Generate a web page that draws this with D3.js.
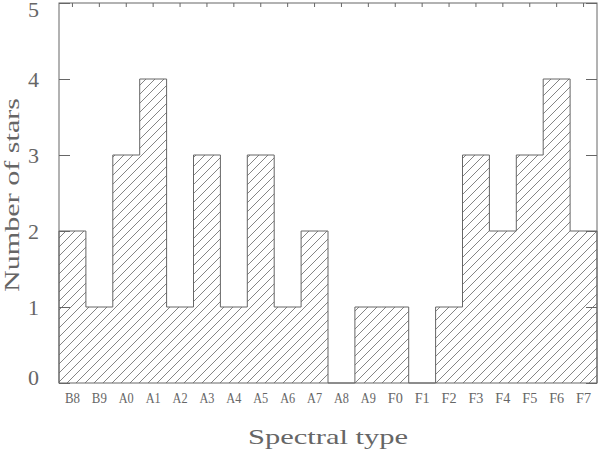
<!DOCTYPE html>
<html>
<head>
<meta charset="utf-8">
<script src="https://cdn.jsdelivr.net/npm/d3@7"></script>
<style>
  body { margin: 0; background: #fff; }
  text { font-family: "Liberation Serif", "DejaVu Serif", serif; fill: #666; }
</style>
</head>
<body>
<svg id="chart" width="600" height="452"></svg>
<script>
// spectral types and star counts
var types = ["B8","B9","A0","A1","A2","A3","A4","A5","A6","A7",
             "A8","A9","F0","F1","F2","F3","F4","F5","F6","F7"]
var counts = [2,1,3,4,1,3,1,3,1,2,0,1,1,0,1,3,2,3,4,2]
var yTicks = [0,1,2,3,4,5]

var svg = d3.select("#chart")
var m = { l: 59, r: 597, t: 3, b: 383 }
var ink = "#666"

var x = d3.scaleBand().domain(types).range([m.l, m.r]).padding(0)
var y = d3.scaleLinear().domain([0, 5]).range([m.b, m.t])

// hatch pattern
var defs = svg.append("defs")
var pat = defs.append("pattern")
  .attr("id", "hatch")
  .attr("patternUnits", "userSpaceOnUse")
  .attr("width", 9).attr("height", 9)
pat.append("path")
  .attr("d", "M-1,1 L1,-1 M0,9 L9,0 M8,10 L10,8")
  .attr("stroke", "#777").attr("stroke-width", 0.9)

// step outline of the histogram
var pts = []
types.forEach(function (t, i) {
  pts.push([x(t), y(counts[i])])
  pts.push([x(t) + x.bandwidth(), y(counts[i])])
})
var area = d3.area().x(d => d[0]).y0(y(0)).y1(d => d[1])
svg.append("path")
  .attr("d", area(pts))
  .attr("fill", "url(#hatch)")
var line = d3.line()
svg.append("path")
  .attr("d", line([[m.l, y(0)]].concat(pts).concat([[m.r, y(0)]])))
  .attr("fill", "none").attr("stroke", ink).attr("stroke-width", 1)

// frame
svg.append("rect")
  .attr("x", m.l).attr("y", m.t)
  .attr("width", m.r - m.l).attr("height", m.b - m.t)
  .attr("fill", "none").attr("stroke", ink).attr("stroke-width", 1)

// y axis left + right ticks
var yl = svg.append("g").attr("transform", "translate(" + m.l + ",0)")
  .call(d3.axisLeft(y).tickValues(yTicks).tickSize(-11).tickPadding(20).tickFormat(d3.format("d")))
yl.select(".domain").remove()
yl.selectAll("line").attr("stroke", ink)
yl.selectAll("text").attr("font-size", 22).attr("fill", "#666")
  .attr("font-family", "Liberation Serif")
  .attr("dy", d => d == 0 ? "0.05em" : d == 5 ? "0.62em" : "0.32em")
var yr = svg.append("g").attr("transform", "translate(" + m.r + ",0)")
  .call(d3.axisRight(y).tickValues(yTicks).tickSize(-11).tickFormat(""))
yr.select(".domain").remove()
yr.selectAll("line").attr("stroke", ink)

// x axis: labels at bottom, small ticks on top
var xb = svg.append("g").attr("transform", "translate(0," + m.b + ")")
  .call(d3.axisBottom(x).tickSize(0).tickPadding(10))
xb.select(".domain").remove()
xb.selectAll("text").attr("font-size", 14).attr("fill", "#666")
  .attr("font-family", "Liberation Serif")
  .attr("textLength", 15).attr("lengthAdjust", "spacingAndGlyphs")
var xt = svg.append("g").attr("transform", "translate(0," + m.t + ")")
  .call(d3.axisTop(x).tickSize(-4).tickFormat(""))
xt.select(".domain").remove()
xt.selectAll("line").attr("stroke", ink)

// axis titles
svg.append("text")
  .attr("x", (m.l + m.r) / 2).attr("y", 444)
  .attr("text-anchor", "middle")
  .attr("font-size", 22)
  .attr("textLength", 160).attr("lengthAdjust", "spacingAndGlyphs")
  .text("Spectral type")
svg.append("text")
  .attr("transform", "translate(19,195) rotate(-90)")
  .attr("text-anchor", "middle")
  .attr("font-size", 22)
  .attr("textLength", 194).attr("lengthAdjust", "spacingAndGlyphs")
  .text("Number of stars")
</script>
</body>
</html>
